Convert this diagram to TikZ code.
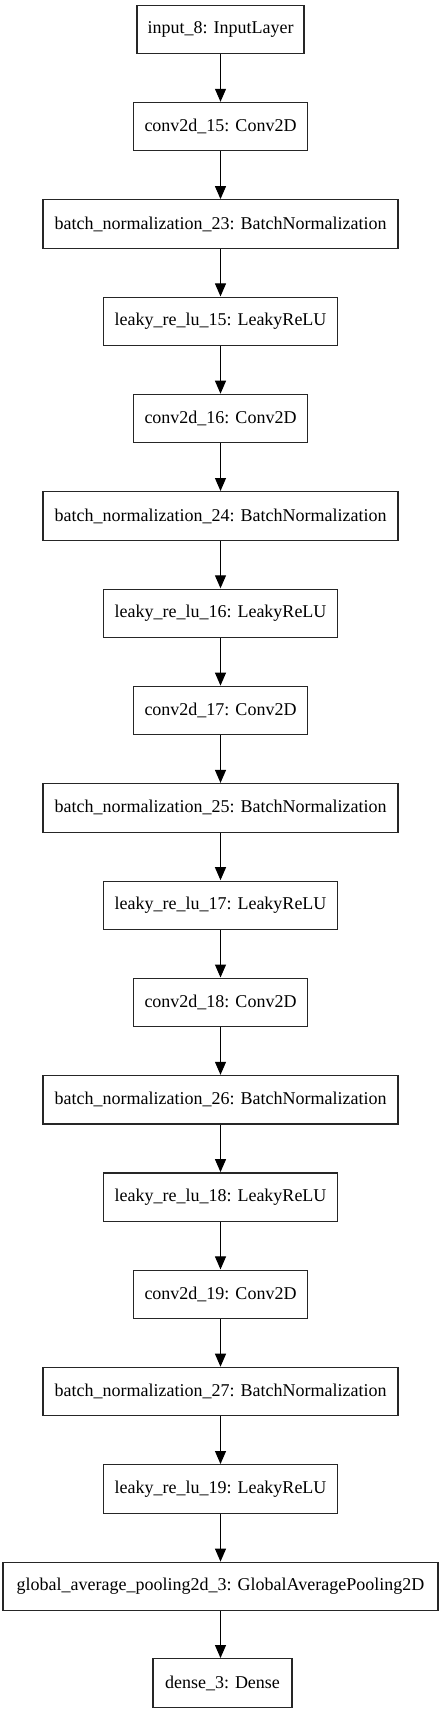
\documentclass[tikz,border=0pt]{standalone}
\usepackage{fontspec}
\setmainfont{Liberation Serif}
\usetikzlibrary{arrows.meta}
\begin{document}
\begin{tikzpicture}[x=1pt,y=-1pt,
  layer/.style={draw=black!85, line width=1.1pt, fill=white, inner sep=0pt,
    minimum height=48.3pt, font=\fontsize{18}{20}\selectfont, anchor=center},
  link/.style={line width=1.1pt, -{Triangle[length=13pt,width=11pt]}, shorten >=0.3pt}]
\useasboundingbox (0,0) rectangle (441,1715);
\def\cx{220.5}
\node[layer, minimum width=167pt]   (n0)  at (\cx, 29.5)   {input\_8: InputLayer};
\node[layer, minimum width=173.6pt] (n1)  at (\cx, 126.8)  {conv2d\_15: Conv2D};
\node[layer, minimum width=355pt]   (n2)  at (\cx, 224.1)  {batch\_normalization\_23: BatchNormalization};
\node[layer, minimum width=233.6pt] (n3)  at (\cx, 321.4)  {leaky\_re\_lu\_15: LeakyReLU};
\node[layer, minimum width=173.6pt] (n4)  at (\cx, 418.7)  {conv2d\_16: Conv2D};
\node[layer, minimum width=355pt]   (n5)  at (\cx, 516.0)  {batch\_normalization\_24: BatchNormalization};
\node[layer, minimum width=233.6pt] (n6)  at (\cx, 613.3)  {leaky\_re\_lu\_16: LeakyReLU};
\node[layer, minimum width=173.6pt] (n7)  at (\cx, 710.6)  {conv2d\_17: Conv2D};
\node[layer, minimum width=355pt]   (n8)  at (\cx, 807.9)  {batch\_normalization\_25: BatchNormalization};
\node[layer, minimum width=233.6pt] (n9)  at (\cx, 905.2)  {leaky\_re\_lu\_17: LeakyReLU};
\node[layer, minimum width=173.6pt] (n10) at (\cx, 1002.5) {conv2d\_18: Conv2D};
\node[layer, minimum width=355pt]   (n11) at (\cx, 1099.8) {batch\_normalization\_26: BatchNormalization};
\node[layer, minimum width=233.6pt] (n12) at (\cx, 1197.1) {leaky\_re\_lu\_18: LeakyReLU};
\node[layer, minimum width=173.6pt] (n13) at (\cx, 1294.4) {conv2d\_19: Conv2D};
\node[layer, minimum width=355pt]   (n14) at (\cx, 1391.7) {batch\_normalization\_27: BatchNormalization};
\node[layer, minimum width=233.6pt] (n15) at (\cx, 1489.0) {leaky\_re\_lu\_19: LeakyReLU};
\node[layer, minimum width=435pt]   (n16) at (\cx, 1586.6) {global\_average\_pooling2d\_3: GlobalAveragePooling2D};
\node[layer, minimum width=139pt]   (n17) at (222.5, 1683.0) {dense\_3: Dense};
\foreach \a/\b in {0/1,1/2,2/3,3/4,4/5,5/6,6/7,7/8,8/9,9/10,10/11,11/12,12/13,13/14,14/15,15/16}
  \draw[link] (n\a.south) -- (n\b.north);
\draw[link] (n16.south) -- (n16.south |- n17.north);
\end{tikzpicture}
\end{document}
